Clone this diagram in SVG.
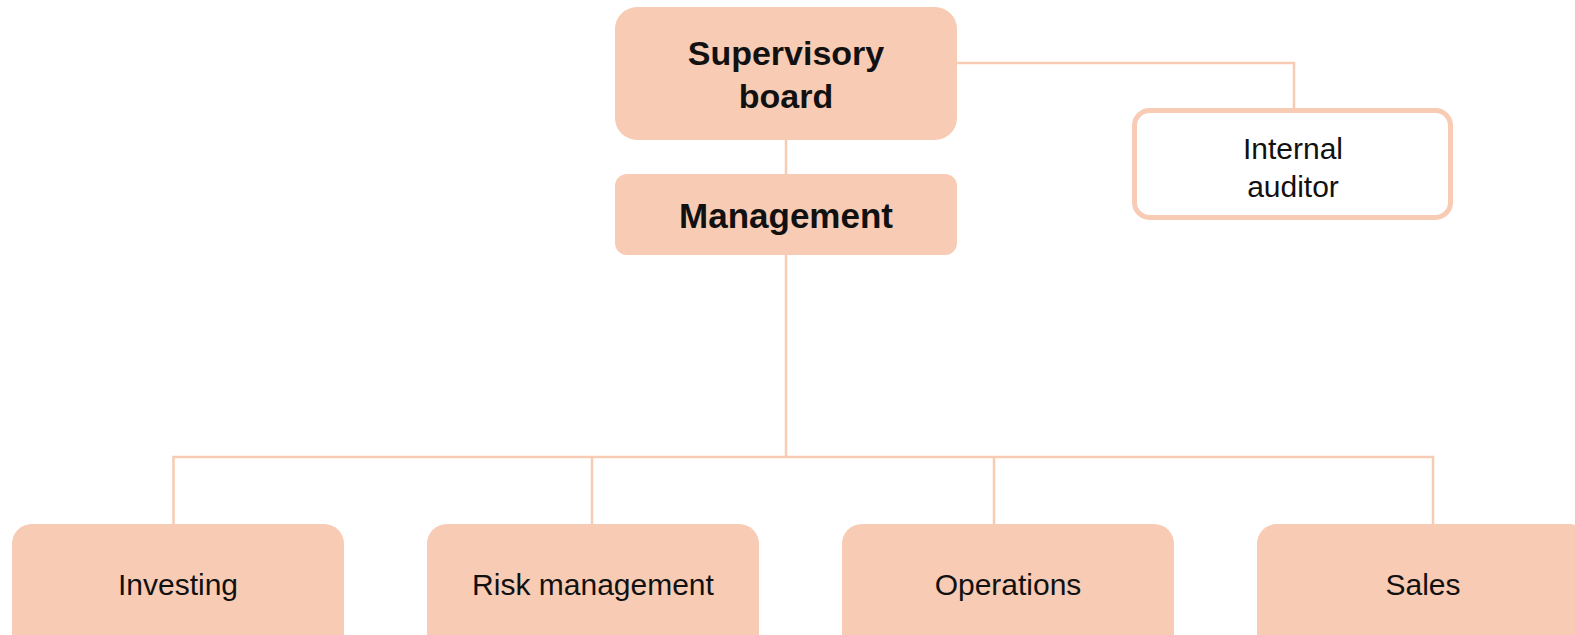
<svg xmlns="http://www.w3.org/2000/svg" width="1575" height="635" viewBox="0 0 1575 635">
<style>
.box{fill:#F8CBB4;}
.obox{fill:#FFFFFF;stroke:#F8CBB4;stroke-width:5;}
.conn{fill:none;stroke:#F8CBB4;stroke-width:2.5;}
.b{font-family:"Liberation Sans",Arial,sans-serif;font-weight:bold;font-size:34px;fill:#111;text-anchor:middle;}
.n{font-family:"Liberation Sans",Arial,sans-serif;font-size:30px;fill:#111;text-anchor:middle;}
</style>
<rect width="1575" height="635" fill="#FFFFFF"/>
<g id="connectors">
<path class="conn" d="M786 140 V174"/>
<path class="conn" d="M957 63 H1294 V109"/>
<path class="conn" d="M786 255 V457"/>
<path class="conn" d="M173.5 524 V457 H1433 V524"/>
<path class="conn" d="M592 457 V524"/>
<path class="conn" d="M994 457 V524"/>
</g>
<g id="supervisory-board">
<rect class="box" x="615" y="7" width="342" height="133" rx="22"/>
<text class="b" x="786" y="65">Supervisory</text>
<text class="b" x="786" y="108">board</text>
</g>
<g id="management">
<rect class="box" x="615" y="174" width="342" height="81" rx="12"/>
<text class="b" x="786" y="228" style="font-size:35px">Management</text>
</g>
<g id="internal-auditor">
<rect class="obox" x="1134.5" y="110.5" width="316" height="107" rx="15"/>
<text class="n" x="1293" y="159">Internal</text>
<text class="n" x="1293" y="197">auditor</text>
</g>
<g id="investing">
<rect class="box" x="12" y="524" width="332" height="130" rx="20"/>
<text class="n" x="178" y="595">Investing</text>
</g>
<g id="risk-management">
<rect class="box" x="427" y="524" width="332" height="130" rx="20"/>
<text class="n" x="593" y="595">Risk management</text>
</g>
<g id="operations">
<rect class="box" x="842" y="524" width="332" height="130" rx="20"/>
<text class="n" x="1008" y="595">Operations</text>
</g>
<g id="sales">
<rect class="box" x="1257" y="524" width="332" height="130" rx="20"/>
<text class="n" x="1423" y="595">Sales</text>
</g>
</svg>
